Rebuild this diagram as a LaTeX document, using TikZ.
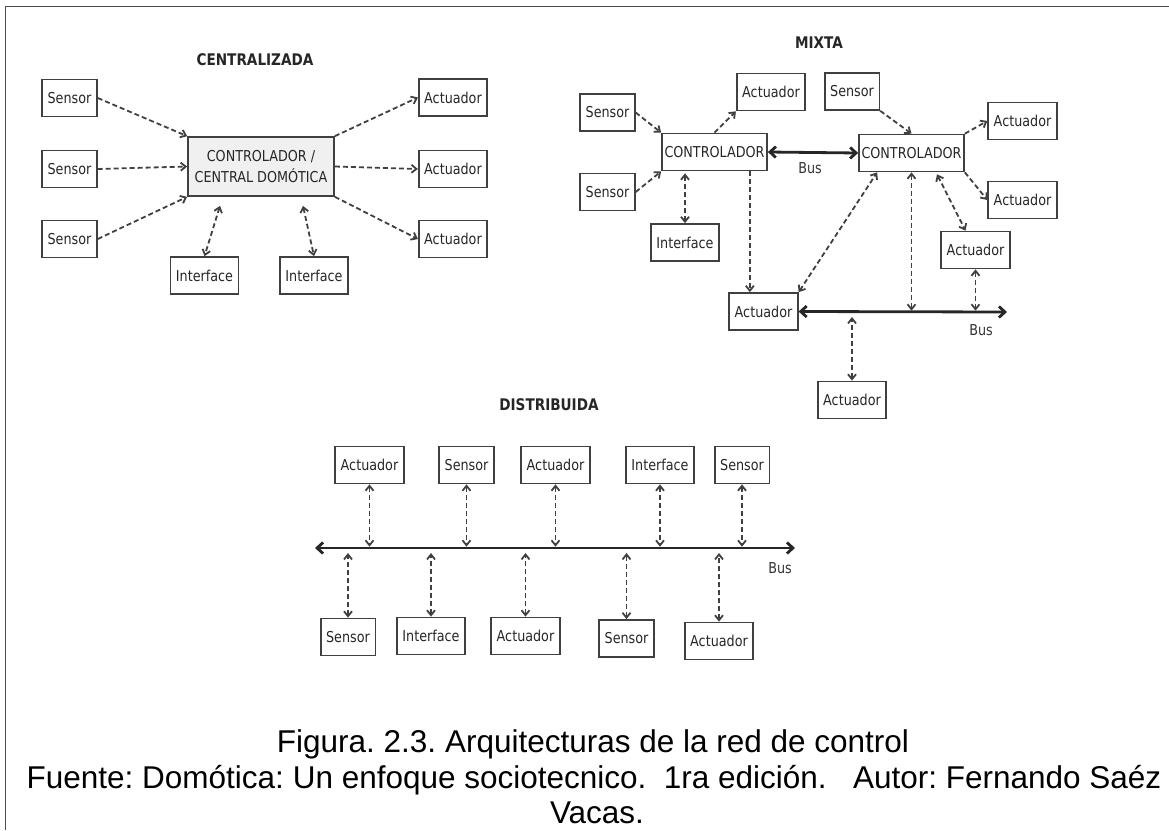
\documentclass[tikz,border=0pt]{standalone}
\usepackage{fontspec}
\newfontfamily\boxfont[FakeStretch=0.85]{DejaVu Sans}
\newfontfamily\capfont{Liberation Sans}
\usetikzlibrary{arrows.meta,calc}
\colorlet{boxgray}{black!75}
\tikzset{devbox/.style={draw=boxgray,line width=1.7pt,rectangle,minimum height=37pt,inner xsep=5.5pt,text=black!85,font={\boxfont\fontsize{15}{21}\selectfont}},
    ctrlbox/.style={devbox,inner xsep=2.5pt},
    dashy/.style={draw=boxgray,line width=1.8pt,dash pattern=on 5pt off 3pt,>={Straight Barb[length=5pt,width=8pt]}},
    busline/.style={draw=black!85,line width=2.8pt,>={Straight Barb[length=6pt,width=11pt]}},
    titletext/.style={text=black!85,font={\boxfont\bfseries\fontsize{16}{19}\selectfont}},
    buslabel/.style={text=black!80,font={\boxfont\fontsize{15}{18}\selectfont}},
    captext/.style={anchor=base,font={\capfont\fontsize{31.5}{36}\selectfont\frenchspacing}}
}
\begin{document}
\begin{tikzpicture}[x=1pt,y=-1pt]
\useasboundingbox (0,0) rectangle (1169,830);

% marco
\draw[line width=1.5pt,black!70] (5.5,830) -- (5.5,6.5) -- (1169,6.5);

% centralizada
\node[titletext] (tcen) at (255,60) {CENTRALIZADA};
\foreach \nm/\y in {cs1/98,cs2/169,cs3/239}
    \node[devbox] (\nm) at (69.5,\y) {Sensor};
\foreach \nm/\y in {ca1/97.5,ca2/169,ca3/239}
    \node[devbox] (\nm) at (453,\y) {Actuador};
\node[devbox,align=center,minimum width=146pt,minimum height=59pt,fill=black!6] (cctrl) at (261,166.5) {CONTROLADOR /\\CENTRAL DOMÓTICA};
\node[devbox] (ci1) at (204.5,275.5) {Interface};
\node[devbox] (ci2) at (314,275.5) {Interface};

\draw[dashy,->] (cs1.east) -- (cctrl.north west);
\draw[dashy,->] (cs2.east) -- (cctrl.west);
\draw[dashy,->] (cs3.east) -- (cctrl.south west);
\draw[dashy,->] (cctrl.north east) -- (ca1.west);
\draw[dashy,->] (cctrl.east) -- (ca2.west);
\draw[dashy,->] (cctrl.south east) -- (ca3.west);
\draw[dashy,<->] ($(cctrl.south)+(-41,9)$) -- (ci1.north);
\draw[dashy,<->] ($(cctrl.south)+(42,9)$) -- (ci2.north);

% mixta
\node[titletext] (tmix) at (819,43) {MIXTA};
\node[devbox] (ms1) at (607.5,112.5) {Sensor};
\node[devbox] (ms2) at (607.5,192) {Sensor};
\node[devbox] (mat) at (771,92) {Actuador};
\node[ctrlbox] (mc1) at (714.5,152) {CONTROLADOR};
\node[devbox] (mi) at (685,242.5) {Interface};
\node[devbox] (ms3) at (852,91.5) {Sensor};
\node[ctrlbox] (mc2) at (911.5,153) {CONTROLADOR};
\node[devbox] (mar1) at (1022.5,121) {Actuador};
\node[devbox] (mar2) at (1022.5,200) {Actuador};
\node[devbox] (mar3) at (975.5,250) {Actuador};
\node[devbox] (mab) at (763.5,311.5) {Actuador};
\node[devbox] (mad) at (852,400) {Actuador};
\coordinate (mbusr) at (1007,312);
\coordinate (mdrop) at ($(mc1.south east)+(-18,0)$);

\draw[busline,<->] (mc1.east) -- (mc2.west);
\node[buslabel] (mbl1) at (810,168) {Bus};
\draw[busline,<->] (mab.east) -- (mbusr);
\node[buslabel] (mbl2) at (981,330) {Bus};

\draw[dashy,->] (ms1.east) -- (mc1.north west);
\draw[dashy,->] (ms2.east) -- (mc1.south west);
\draw[dashy,->] (mc1.north) -- (mat.south west);
\draw[dashy,<->,shorten <=2pt] (mi.north |- mc1.south) -- (mi.north);
\draw[dashy,->] (mdrop) -- (mdrop |- mab.north);
\draw[dashy,<->] (mab.north east) -- ($(mc2.south west)+(19,0)$);
\draw[dashy,->] (ms3.south east) -- (mc2.north);
\draw[dashy,->] (mc2.north east) -- (mar1.west);
\draw[dashy,->] (mc2.south east) -- (mar2.west);
\draw[dashy,<->] ($(mc2.south)+(25.5,2)$) -- ($(mar3.north)+(-10,0)$);
\draw[dashy,<->,shorten >=1.3pt] (mc2.south) -- (mc2.south |- mbusr);
\draw[dashy,<->,shorten >=1.3pt] (mar3.south) -- (mar3.south |- mbusr);
\draw[dashy,<->,shorten >=5pt] (mad.north) -- (mad.north |- mbusr);

% distribuida
\node[titletext] (tdis) at (549,405) {DISTRIBUIDA};
\coordinate (dbusl) at (315,548);
\coordinate (dbusr) at (795,548);
\draw[busline,<->] (dbusl) -- (dbusr);
\node[buslabel] (dbl) at (780,568) {Bus};

\foreach \nm/\x/\what in {dta1/369.5/Actuador,dts1/466.5/Sensor,dta2/555.5/Actuador,dti/660/Interface,dts2/742/Sensor}
{
    \node[devbox] (\nm) at (\x,465) {\what};
    \draw[dashy,<->,shorten >=1.3pt] (\nm.south) -- (\nm.south |- dbusl);
}
\foreach \nm/\x/\y/\what in {dbs1/348/637/Sensor,dbi/431/636/Interface,dba1/525.5/636/Actuador,dbs2/626.5/638.5/Sensor,dba2/719/641/Actuador}
{
    \node[devbox] (\nm) at (\x,\y) {\what};
    \draw[dashy,<->,shorten >=5pt] (\nm.north) -- (\nm.north |- dbusl);
}

% pie de figura
\node[captext] (cap1) at (593,752) {Figura. 2.3. Arquitecturas de la red de control};
\node[captext] (cap2) at (594,788) {Fuente: Domótica: Un enfoque sociotecnico.\ \ 1ra edición.\ \ \ Autor: Fernando Saéz};
\node[captext] (cap3) at (597,823) {Vacas.};

\end{tikzpicture}
\end{document}
